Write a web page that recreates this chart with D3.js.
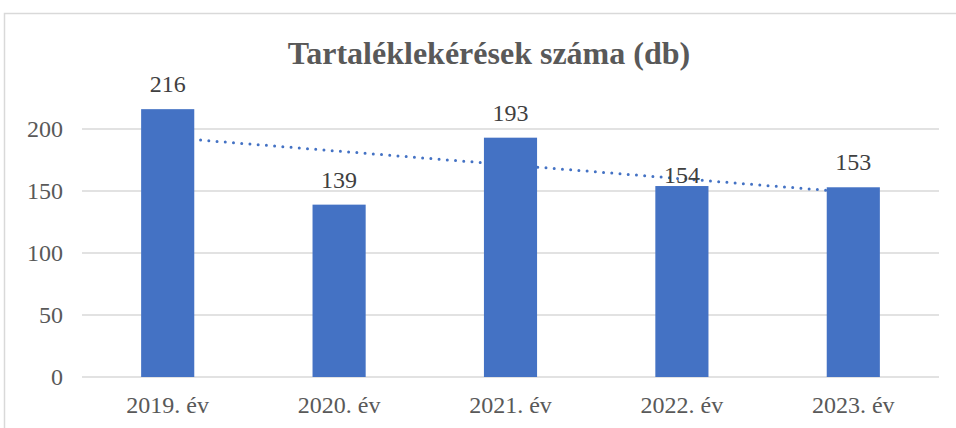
<!DOCTYPE html>
<html>
<head>
<meta charset="utf-8">
<script src="https://cdn.jsdelivr.net/npm/d3@7"></script>
<style>
  html, body { margin: 0; padding: 0; background: #fff; }
  svg { display: block; }
  svg text { font-family: "Liberation Serif", "Times New Roman", Tinos, "DejaVu Serif", serif; }
</style>
</head>
<body>
<svg id="chart" width="956" height="428"></svg>
<script>
const categories = ["2019. év", "2020. év", "2021. év", "2022. év", "2023. év"];
const values = [216, 139, 193, 154, 153];
const yTicks = [0, 50, 100, 150, 200];
const yMax = 250;
const title = "Tartaléklekérések száma (db)";

const W = 956, H = 428;
const margin = { left: 82, right: 17, top: 67, bottom: 51 };
const svg = d3.select("#chart");
// label gap above bar (px); the 2022 label sits lower, right on its bar
const labelGap = c => (c === "2022. év" ? 3.5 : 17);

// chart border (cropped at right/bottom)
svg.append("path")
  .attr("d", `M4.5,${H} L4.5,13.5 L${W},13.5`)
  .attr("fill", "none").attr("stroke", "#d9d9d9").attr("stroke-width", 1.5);

const x = d3.scaleBand().domain(categories)
  .range([margin.left, W - margin.right]).paddingInner(0.69).paddingOuter(0.345);
const y = d3.scaleLinear().domain([0, yMax]).range([H - margin.bottom, margin.top]);

// gridlines
svg.append("g").selectAll("line").data(yTicks).join("line")
  .attr("x1", margin.left).attr("x2", W - margin.right)
  .attr("y1", d => y(d)).attr("y2", d => y(d))
  .attr("stroke", "#d9d9d9").attr("stroke-width", 1.5);

// trendline (linear regression), behind bars
const n = values.length;
const xs = values.map((_, i) => i + 1);
const mx = d3.mean(xs), my = d3.mean(values);
const slope = d3.sum(xs.map((xi, i) => (xi - mx) * (values[i] - my))) / d3.sum(xs.map(xi => (xi - mx) ** 2));
const icpt = my - slope * mx;
const cx = c => x(c) + x.bandwidth() / 2;
svg.append("line")
  .attr("x1", cx(categories[0])).attr("y1", y(icpt + slope * 1))
  .attr("x2", cx(categories[n - 1])).attr("y2", y(icpt + slope * n))
  .attr("stroke", "#4472c4").attr("stroke-width", 3)
  .attr("stroke-linecap", "round").attr("stroke-dasharray", "0 8.25");

// bars
svg.append("g").selectAll("rect").data(values).join("rect")
  .attr("x", (d, i) => x(categories[i]))
  .attr("width", x.bandwidth())
  .attr("y", d => y(d))
  .attr("height", d => y(0) - y(d))
  .attr("fill", "#4472c4");

// data labels
svg.append("g").selectAll("text").data(values).join("text")
  .attr("x", (d, i) => cx(categories[i]))
  .attr("y", (d, i) => y(d) - labelGap(categories[i]))
  .attr("text-anchor", "middle")
  .attr("font-size", 24).attr("fill", "#404040")
  .text(d => d);

// y axis labels
svg.append("g").selectAll("text").data(yTicks).join("text")
  .attr("x", 63).attr("y", d => y(d)).attr("dy", "0.34em")
  .attr("text-anchor", "end")
  .attr("font-size", 24).attr("fill", "#595959")
  .text(d => d);

// x axis labels
svg.append("g").selectAll("text").data(categories).join("text")
  .attr("x", d => cx(d)).attr("y", 413)
  .attr("text-anchor", "middle")
  .attr("font-size", 24).attr("fill", "#595959")
  .text(d => d);

// title
svg.append("text")
  .attr("x", 489).attr("y", 64)
  .attr("text-anchor", "middle")
  .attr("font-size", 32).attr("font-weight", "bold")
  .attr("fill", "#595959")
  .text(title);
</script>
</body>
</html>
